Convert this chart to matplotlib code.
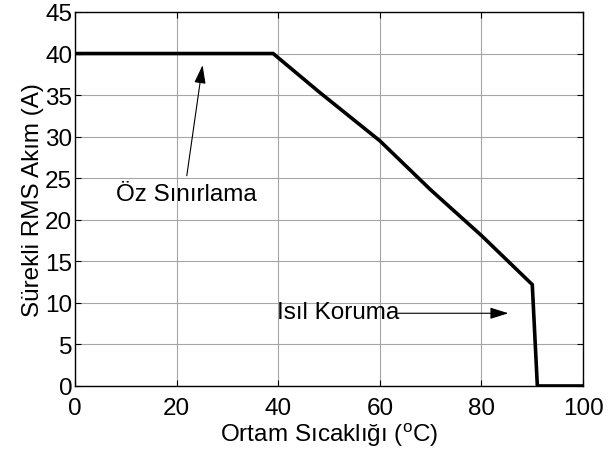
import matplotlib
matplotlib.use('Agg')
from matplotlib import pyplot as plt

# veri: ortam sicakligi - surekli akim egrisi
sicaklik = [0, 39, 48, 60, 70, 80, 90, 91, 100]
akim = [40, 40, 35.4, 29.5, 23.6, 18.1, 12.2, 0, 0]

x_ticks = [0, 20, 40, 60, 80, 100]
y_ticks = [0, 5, 10, 15, 20, 25, 30, 35, 40, 45]

plt.rcParams['font.family'] = ['Liberation Sans', 'DejaVu Sans']
plt.rcParams['mathtext.fontset'] = 'custom'
plt.rcParams['mathtext.rm'] = 'Liberation Sans'
fs = 17.5

fig = plt.figure(figsize=(6.08, 4.64), dpi=100)
ax = fig.add_axes([0.1234, 0.166, 0.8356, 0.806])

ax.plot(sicaklik, akim, color='k', linewidth=2.6, solid_joinstyle='miter')

ax.set_xlim(0, 100)
ax.set_ylim(0, 45)
ax.set_xticks(x_ticks)
ax.set_yticks(y_ticks)
ax.tick_params(direction='in', length=4, width=0.8, top=True, right=True,
               labelsize=fs)
ax.tick_params(axis='y', pad=2)
ax.tick_params(axis='x', pad=8)
for s in ax.spines.values():
    s.set_linewidth(1.0)
    s.set_color('k')

# grid
ax.grid(True, color='0.65', linewidth=0.8, linestyle='-')
ax.set_axisbelow(True)

ax.set_xlabel(r'Ortam Sıcaklığı ($^{\rm o}$C)', fontsize=fs, labelpad=1)
ax.set_ylabel('Sürekli RMS Akım (A)', fontsize=fs, labelpad=1)

# aciklamalar
ax.annotate('', xy=(25.1, 38.6), xytext=(22.0, 25.3),
            arrowprops=dict(arrowstyle='-|>,head_width=0.25,head_length=0.8',
                            color='k', lw=0.8,
                            mutation_scale=14, shrinkA=0, shrinkB=0))
ax.text(8.1, 23.1, 'Öz Sınırlama', fontsize=fs, va='center', ha='left')

ax.text(39.7, 8.9, 'Isıl Koruma', fontsize=fs, va='center', ha='left')
ax.annotate('', xy=(85.3, 8.75), xytext=(63.5, 8.75),
            arrowprops=dict(arrowstyle='-|>,head_width=0.25,head_length=0.8',
                            color='k', lw=0.8,
                            mutation_scale=14, shrinkA=0, shrinkB=0))

fig.savefig('out.png', dpi=100)
